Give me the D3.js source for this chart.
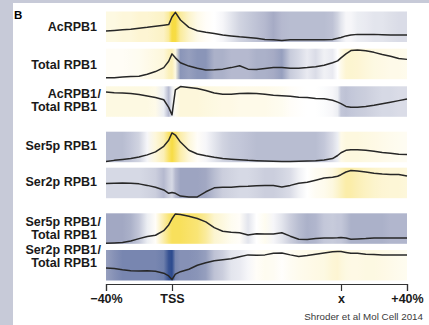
<!DOCTYPE html>
<html>
<head>
<meta charset="utf-8">
<script src="https://cdn.jsdelivr.net/npm/d3@7"></script>
<style>
  body { margin: 0; background: #fff; }
  svg { display: block; font-family: "Liberation Sans", Arial, sans-serif; }
</style>
</head>
<body>
<div id="chart"></div>
<script>
// Metagene positions (% of gene length: TSS = 0, gene end "x" = 100)
const positions = [-40,-35,-30,-25,-20,-15,-10,-5,-2,0,2,5,10,15,20,25,30,35,40,45,50,55,60,65,70,75,80,85,90,95,98,100,103,106,110,115,120,125,130,135,140];

// Profile lines (0-10, relative within each track)
const acLine = [3.6,3.8,4.0,4.2,4.5,4.8,5.2,5.5, 5.7,8.2,9.7, 7.2,4.8,3.7,3.2,2.8,2.3,2.0,1.7,1.5,1.2,0.8,0.7,0.5,0.7,0.7,0.7,0.7,0.7,0.8, 1.2,1.5,2.0,2.3, 2.5,2.5,2.5,2.4,2.3,2.3,2.3];
const totalLine = [0.5,0.5,0.7,0.9,1.0,1.6,2.5,3.8, 5.9,8.3,7.0, 5.4,4.3,3.6,3.0,3.1,3.3,3.8,4.4,3.3,3.2,3.5,3.8,3.8,3.6,3.6,3.8,4.1,4.6,5.4, 6.0,7.0,8.3,9.4, 9.6,9.3,8.8,8.1,7.5,6.8,6.5];
const acRatioLine = [8.1,7.9,7.8,7.6,7.3,6.8,6.3,5.6, 3.1,0.6,8.8, 9.9,9.6,9.3,8.6,7.8,7.4,7.4,7.6,7.7,7.6,7.4,7.1,6.9,6.7,6.4,6.3,6.0,5.9,5.4, 4.8,4.3,3.4,3.1, 3.1,3.4,3.8,4.3,4.8,5.3,5.8];
const ser5Line = [0.2,0.6,0.9,1.2,1.7,2.4,3.4,5.2, 7.2,9.6,8.9, 6.6,3.9,2.7,2.1,1.6,1.2,1.0,0.8,0.6,0.5,0.4,0.3,0.2,0.2,0.3,0.4,0.5,0.7,1.2, 2.2,3.1,3.9,4.1, 4.1,3.9,3.6,3.2,2.9,2.6,2.5];
const ser2Line = [4.8,4.9,5.0,4.9,4.7,4.2,3.6,2.7, 1.6,1.9,1.6, 0.7,0.4,0.4,2.1,3.4,3.6,3.6,3.8,3.9,4.1,4.2,4.2,3.7,4.2,4.9,5.2,5.9,6.6,6.9, 7.2,7.7,8.6,9.1, 8.9,8.6,8.2,7.9,7.8,7.8,7.3];
const ser5RatioLine = [0.2,0.3,0.4,0.9,1.7,2.4,2.8,4.3, 6.2,8.2,9.8, 9.6,9.0,8.3,7.2,5.3,4.1,3.8,3.6,2.9,3.3,3.2,3.2,3.6,2.5,1.5,1.4,1.7,1.9,1.9, 2.0,2.1,1.9,1.5, 1.6,1.7,1.9,1.9,1.9,1.9,1.9];
const ser2RatioLine = [4.1,3.9,3.5,3.2,3.1,3.2,3.0,2.4, 1.5,0.3,2.1, 2.9,3.7,5.0,5.8,6.5,6.8,7.1,7.8,8.4,8.3,8.4,8.9,9.0,8.4,7.9,8.2,8.6,9.0,9.4, 9.5,9.5,9.2,8.9, 8.9,8.6,8.5,8.4,8.4,8.4,8.4];

// Heatmap values (-1 = blue, 0 = white, +1 = yellow)
const acHeat = [0.2,0.2,0.25,0.25,0.3,0.3,0.35,0.4, 0.6,0.95,0.95, 0.6,0.35,0.15,0.05,0,-0.05,-0.15,-0.25,-0.3,-0.35,-0.4,-0.48,-0.4,-0.38,-0.38,-0.38,-0.38,-0.38,-0.35, -0.25,-0.15,-0.05,-0.05, -0.1,-0.12,-0.15,-0.15,-0.18,-0.2,-0.2];
const totalHeat = [0.06,0.06,0.06,0.08,0.1,0.15,0.2,0.25, 0.45,0.5,0.2, -0.6,-0.55,-0.6,-0.6,-0.45,-0.45,-0.4,-0.4,-0.4,-0.45,-0.45,-0.48,-0.55,-0.3,-0.22,-0.12,-0.2,-0.08,-0.12, 0,0.15,0.3,0.32, 0.3,0.25,0.2,0.18,0.15,0.15,0.12];
const acRatioHeat = [0.2,0.2,0.2,0.2,0.2,0.2,0.15,-0.1, -0.4,-0.1,0.1, 0.25,0.25,0.25,0.22,0.2,0.18,0.18,0.15,0.15,0.15,0.15,0.12,0.1,0.05,0.02,0,0,-0.02,-0.05, -0.1,-0.32,-0.35,-0.32, -0.3,-0.28,-0.25,-0.22,-0.22,-0.2,-0.2];
const ser5Heat = [-0.38,-0.38,-0.38,-0.32,-0.25,-0.05,0.25,0.5, 0.8,0.95,0.8, 0.55,0.25,0.05,-0.05,-0.15,-0.25,-0.3,-0.32,-0.35,-0.38,-0.38,-0.38,-0.38,-0.38,-0.38,-0.38,-0.38,-0.32,-0.2, -0.1,0.15,0.22,0.22, 0.22,0.2,0.18,0.15,0.12,0.1,0.08];
const ser2Heat = [-0.22,-0.22,-0.22,-0.22,-0.22,-0.25,-0.28,-0.4, -0.28,-0.22,-0.4, -0.52,-0.52,-0.52,-0.5,-0.38,-0.28,-0.25,-0.22,-0.22,-0.25,-0.28,-0.28,-0.25,-0.2,-0.08,0,0.08,0.12,0.22, 0.35,0.45,0.55,0.55, 0.5,0.42,0.35,0.3,0.28,0.28,0.25];
const ser5RatioHeat = [-0.5,-0.5,-0.5,-0.45,-0.32,-0.1,0.05,0.55, 0.75,0.85,0.85, 0.85,0.8,0.75,0.6,0.32,0.22,0.1,0.05,-0.15,0,0.1,-0.05,-0.15,-0.28,-0.38,-0.45,-0.42,-0.32,-0.3, -0.32,-0.32,-0.38,-0.45, -0.45,-0.45,-0.45,-0.45,-0.42,-0.42,-0.42];
const ser2RatioHeat = [-0.55,-0.62,-0.68,-0.68,-0.68,-0.68,-0.68,-0.72, -0.95,-1,-0.68, -0.62,-0.62,-0.6,-0.55,-0.35,-0.28,-0.15,-0.12,-0.05,0.05,0.1,0.08,0.02,0.08,0.12,0.15,0.18,0.2,0.28, 0.3,0.25,0.2,0.18, 0.18,0.2,0.2,0.18,0.15,0.12,0.1];

const trackNames = [["AcRPB1"], ["Total RPB1"], ["AcRPB1/", "Total RPB1"], ["Ser5p RPB1"], ["Ser2p RPB1"], ["Ser5p RPB1/", "Total RPB1"], ["Ser2p RPB1/", "Total RPB1"]];
const tickValues = [-40, 0, 100, 140];
const tickLabels = ["\u221240%", "TSS", "x", "+40%"];

const tracks = trackNames.map((name, i) => ({
    name,
    line: [acLine, totalLine, acRatioLine, ser5Line, ser2Line, ser5RatioLine, ser2RatioLine][i],
    heat: [acHeat, totalHeat, acRatioHeat, ser5Heat, ser2Heat, ser5RatioHeat, ser2RatioHeat][i]
}));

drawChart();

function drawChart() {
    const width = 429;
    const height = 325;
    const trackTop = [11.5, 48.7, 86.3, 131.7, 167.7, 213.3, 250];
    const trackH = 30.5;
    const labelY = [26.7, 64.2, 93, 145, 181, 221, 249];

    const svg = d3.select("#chart")
        .append("svg")
        .attr("width", width)
        .attr("height", height);

    // Slide frame (top and left strips)
    svg.append("rect").attr("width", width).attr("height", height).attr("fill", "#c7cad8");
    svg.append("rect").attr("x", 13).attr("y", 3).attr("width", width - 13).attr("height", height - 3).attr("fill", "#fff");

    const x = d3.scaleLinear()
        .domain([-40, 0, 100, 140])
        .range([106, 172, 341, 407]);

    // Pale blue-grey -> white -> yellow
    const heatColor = d3.scaleLinear()
        .domain([-1, -0.5, 0, 0.5, 1])
        .range(["#2c4a8e", "#a2a8c3", "#ffffff", "#fbefb6", "#f7da36"])
        .clamp(true);

    const defs = svg.append("defs");
    const x0 = 106, x1 = 407;

    tracks.forEach((t, i) => {
        const top = trackTop[i];
        const y = d3.scaleLinear().domain([0, 10]).range([top + trackH, top]);

        // Heatmap strip as a horizontal gradient
        const grad = defs.append("linearGradient")
            .attr("id", "heat" + i)
            .attr("gradientUnits", "userSpaceOnUse")
            .attr("x1", x0).attr("x2", x1)
            .attr("y1", 0).attr("y2", 0);
        grad.selectAll("stop")
            .data(positions)
            .join("stop")
            .attr("offset", d => (x(d) - x0) / (x1 - x0))
            .attr("stop-color", (d, j) => heatColor(t.heat[j]));

        svg.append("rect")
            .attr("x", x0)
            .attr("y", top)
            .attr("width", x1 - x0)
            .attr("height", trackH)
            .attr("fill", `url(#heat${i})`);

        // Profile line
        svg.append("path")
            .datum(t.line)
            .attr("d", d3.line().x((d, j) => x(positions[j])).y(d => y(d)))
            .attr("fill", "none")
            .attr("stroke", "#272727")
            .attr("stroke-width", 1.5)
            .attr("stroke-linejoin", "round");

        // Labels (slash hangs past the right edge)
        t.name.forEach((line, k) => {
            const yy = labelY[i] + k * 13 + 4.5;
            const hasSlash = line.endsWith("/");
            svg.append("text")
                .attr("x", 97)
                .attr("y", yy)
                .attr("text-anchor", "end")
                .style("font-size", "12.5px")
                .style("font-weight", "bold")
                .attr("fill", "#1a1a1a")
                .text(hasSlash ? line.slice(0, -1) : line);
            if (hasSlash) {
                svg.append("text")
                    .attr("x", 97.5)
                    .attr("y", yy)
                    .style("font-size", "12.5px")
                    .style("font-weight", "bold")
                    .attr("fill", "#1a1a1a")
                    .text("/");
            }
        });
    });

    // Axis
    const axis = d3.axisBottom(x)
        .tickValues(tickValues)
        .tickFormat((d, i) => tickLabels[i])
        .tickSize(7)
        .tickPadding(3);

    const g = svg.append("g")
        .attr("transform", "translate(0,284)")
        .call(axis);
    g.selectAll(".domain, .tick line")
        .attr("stroke", "#333")
        .attr("stroke-width", 1.2);
    g.selectAll("text")
        .attr("fill", "#1a1a1a")
        .style("font-size", "12.5px")
        .style("font-weight", "bold")
        .style("font-family", "'Liberation Sans', Arial, sans-serif");

    // Panel letter
    svg.append("text")
        .attr("x", 14)
        .attr("y", 18.5)
        .style("font-size", "11.5px")
        .style("font-weight", "bold")
        .text("B");

    // Credit
    svg.append("text")
        .attr("x", 423)
        .attr("y", 320)
        .attr("text-anchor", "end")
        .attr("fill", "#3a3a3a")
        .style("font-size", "9.8px")
        .text("Shroder et al Mol Cell 2014");
}
</script>
</body>
</html>
